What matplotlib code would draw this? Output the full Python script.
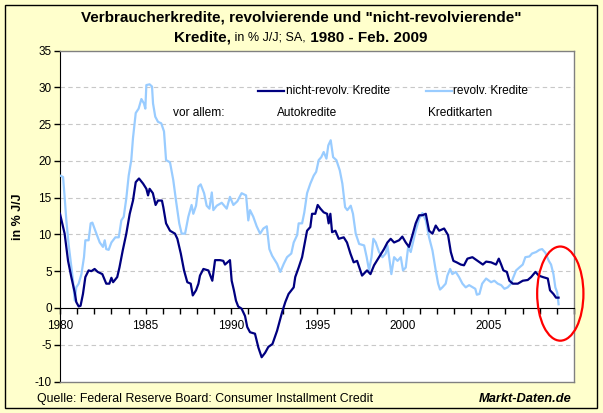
import matplotlib
matplotlib.use("Agg")
import matplotlib.pyplot as plt
from matplotlib.patches import Ellipse, Rectangle
from matplotlib.lines import Line2D

W, H = 603, 413
BG = "#FFFFCC"
NAVY = "#000080"
LIGHT = "#99CCFF"
plt.rcParams["font.family"] = ["Liberation Sans", "DejaVu Sans"]

# nicht-revolvierende Kredite (Autokredite), % J/J
navy_x = [1980.0, 1980.27, 1980.47, 1980.66, 1980.86, 1980.95, 1981.09, 1981.2, 1981.34, 1981.48,
          1981.67, 1981.83, 1982.02, 1982.2, 1982.47, 1982.7, 1982.88, 1983.0, 1983.1, 1983.34,
          1983.47, 1983.66, 1983.87, 1984.07, 1984.26, 1984.42, 1984.61, 1984.85, 1985.04, 1985.14,
          1985.23, 1985.42, 1985.58, 1985.72, 1985.95, 1986.03, 1986.19, 1986.42, 1986.71, 1986.85,
          1987.05, 1987.24, 1987.43, 1987.63, 1987.75, 1987.94, 1988.08, 1988.17, 1988.37, 1988.66,
          1988.89, 1989.05, 1989.34, 1989.53, 1989.63, 1989.92, 1990.02, 1990.15, 1990.27, 1990.4,
          1990.6, 1990.8, 1990.93, 1991.09, 1991.38, 1991.58, 1991.77, 1991.97, 1992.16, 1992.4,
          1992.67, 1992.96, 1993.15, 1993.34, 1993.64, 1993.73, 1993.93, 1994.13, 1994.22, 1994.42,
          1994.61, 1994.71, 1994.9, 1995.04, 1995.2, 1995.39, 1995.59, 1995.68, 1995.78, 1995.88,
          1996.07, 1996.27, 1996.56, 1996.75, 1996.95, 1997.14, 1997.34, 1997.53, 1997.63, 1997.92,
          1998.12, 1998.33, 1998.62, 1998.91, 1999.11, 1999.3, 1999.5, 1999.79, 1999.98, 2000.18,
          2000.37, 2000.57, 2000.76, 2000.96, 2001.15, 2001.35, 2001.54, 2001.74, 2001.93, 2002.13,
          2002.42, 2002.65, 2002.81, 2002.96, 2003.15, 2003.39, 2003.58, 2003.78, 2004.07, 2004.38,
          2004.68, 2004.87, 2005.16, 2005.45, 2005.61, 2005.75, 2005.88, 2006.08, 2006.23, 2006.43,
          2006.72, 2007.01, 2007.3, 2007.5, 2007.75, 2007.94, 2008.18, 2008.47, 2008.6, 2008.8,
          2008.95, 2009.1]
navy_y = [12.8, 10.1, 6.4, 4.2, 2.1, 0.8, 0.2, 0.3, 1.9, 4.2,
          5.1, 5.0, 5.3, 4.9, 4.6, 3.3, 3.3, 4.1, 3.5, 4.2,
          5.5, 7.8, 10.1, 12.8, 14.6, 17.1, 17.6, 16.9, 16.2, 15.3,
          16.2, 15.6, 14.0, 14.6, 14.6, 13.7, 11.5, 10.5, 10.1, 9.4,
          7.4, 5.1, 3.5, 3.3, 1.7, 2.4, 3.3, 4.4, 5.3, 5.1,
          3.7, 6.5, 6.5, 6.4, 5.9, 6.5, 3.7, 2.4, 1.0, 0.2,
          -0.1, -1.1, -2.6, -3.3, -3.5, -5.4, -6.7, -6.1, -5.3, -4.9,
          -3.1, -0.6, 0.8, 1.9, 2.8, 4.2, 5.5, 6.9, 8.0, 10.5,
          11.0, 12.8, 12.8, 14.0, 13.5, 13.0, 12.8, 11.5, 12.8, 10.3,
          10.5, 9.4, 9.6, 8.9, 7.4, 6.2, 6.4, 5.1, 4.4, 5.1,
          4.6, 5.8, 6.9, 8.0, 8.9, 9.4, 8.9, 9.2, 9.7, 8.9,
          8.3, 9.9, 11.5, 12.6, 12.6, 12.8, 10.5, 10.1, 11.2, 10.5,
          10.8, 9.9, 7.6, 6.4, 6.2, 5.9, 5.8, 6.7, 6.9, 6.4,
          5.9, 6.3, 6.2, 5.9, 6.7, 5.9, 5.1, 4.9, 3.7, 3.3,
          3.3, 3.7, 3.8, 4.2, 4.9, 4.4, 4.2, 4.0, 2.4, 1.9,
          1.4, 1.4]

# revolvierende Kredite (Kreditkarten), % J/J
light_x = [1980.0, 1980.18, 1980.27, 1980.37, 1980.5, 1980.62, 1980.76, 1980.86, 1980.95, 1981.09,
           1981.25, 1981.4, 1981.48, 1981.67, 1981.79, 1981.89, 1982.06, 1982.32, 1982.51, 1982.61,
           1982.7, 1982.84, 1983.0, 1983.23, 1983.43, 1983.58, 1983.72, 1983.87, 1984.01, 1984.16,
           1984.26, 1984.42, 1984.59, 1984.75, 1984.9, 1984.98, 1985.04, 1985.23, 1985.37, 1985.43,
           1985.56, 1985.72, 1985.91, 1986.07, 1986.19, 1986.42, 1986.61, 1986.77, 1986.96, 1987.1,
           1987.3, 1987.49, 1987.68, 1987.78, 1987.94, 1988.08, 1988.21, 1988.41, 1988.56, 1988.72,
           1988.86, 1988.95, 1989.15, 1989.44, 1989.73, 1989.92, 1990.12, 1990.35, 1990.6, 1990.86,
           1990.99, 1991.09, 1991.28, 1991.48, 1991.68, 1991.87, 1992.07, 1992.22, 1992.38, 1992.67,
           1992.86, 1993.06, 1993.25, 1993.5, 1993.64, 1993.84, 1993.93, 1994.13, 1994.26, 1994.42,
           1994.61, 1994.81, 1994.95, 1995.1, 1995.25, 1995.39, 1995.55, 1995.66, 1995.8, 1995.94,
           1996.13, 1996.33, 1996.48, 1996.64, 1996.77, 1996.97, 1997.1, 1997.26, 1997.46, 1997.75,
           1997.9, 1998.04, 1998.18, 1998.29, 1998.43, 1998.62, 1998.82, 1999.01, 1999.11, 1999.21,
           1999.34, 1999.5, 1999.7, 1999.89, 2000.02, 2000.18, 2000.32, 2000.47, 2000.63, 2000.76,
           2000.96, 2001.15, 2001.35, 2001.54, 2001.74, 2001.93, 2002.07, 2002.18, 2002.32, 2002.51,
           2002.61, 2002.77, 2002.9, 2003.1, 2003.29, 2003.49, 2003.68, 2003.88, 2004.09, 2004.24,
           2004.33, 2004.48, 2004.64, 2004.87, 2005.16, 2005.35, 2005.55, 2005.75, 2005.94, 2006.13,
           2006.33, 2006.43, 2006.62, 2006.81, 2007.01, 2007.16, 2007.4, 2007.55, 2007.79, 2007.98,
           2008.14, 2008.33, 2008.53, 2008.66, 2008.8, 2008.91, 2009.02, 2009.1]
light_y = [18.0, 17.8, 15.1, 11.9, 8.7, 6.4, 3.7, 1.0, 2.8, 3.3,
           4.6, 6.9, 9.2, 9.2, 11.5, 11.6, 10.5, 8.9, 8.3, 9.2,
           8.0, 7.9, 8.9, 9.6, 9.6, 11.9, 12.4, 14.9, 18.0, 20.1,
           23.1, 26.5, 27.1, 28.4, 27.8, 27.1, 30.3, 30.4, 30.1, 27.8,
           26.0, 25.3, 25.1, 24.0, 20.1, 19.8, 17.4, 14.6, 11.5, 10.1,
           10.1, 12.4, 14.0, 12.8, 13.9, 16.5, 16.8, 15.6, 13.9, 13.5,
           15.7, 13.3, 13.9, 14.3, 13.5, 15.1, 14.0, 14.5, 15.6, 15.3,
           11.9, 13.3, 12.4, 11.1, 10.1, 10.8, 11.1, 8.0, 7.1, 6.0,
           4.9, 6.0, 6.9, 7.4, 8.9, 9.9, 11.5, 11.5, 13.0, 15.6,
           16.9, 18.0, 18.5, 20.1, 20.5, 21.2, 20.3, 22.1, 22.8, 20.5,
           20.1, 18.7, 16.9, 13.7, 13.3, 13.9, 12.8, 10.1, 8.7, 8.5,
           6.9, 5.1, 6.9, 9.4, 8.9, 7.6, 6.9, 7.4, 8.5, 6.9,
           4.6, 6.9, 6.4, 6.9, 5.1, 5.5, 8.3, 7.6, 9.2, 10.5,
           12.1, 12.9, 11.9, 9.6, 7.8, 5.1, 3.3, 2.5, 2.8, 3.3,
           4.4, 5.3, 4.6, 4.9, 4.2, 3.3, 2.8, 3.1, 2.8, 2.6,
           1.8, 1.9, 3.3, 4.0, 3.5, 3.7, 3.3, 3.1, 2.6, 2.8,
           3.3, 4.0, 5.1, 5.5, 5.9, 6.9, 7.0, 7.4, 7.6, 7.9,
           8.0, 7.5, 6.4, 5.9, 4.6, 2.8, 2.1, 0.5]

y_ticks = [-10, -5, 0, 5, 10, 15, 20, 25, 30, 35]
x_labels = [1980, 1985, 1990, 1995, 2000, 2005]


def fx(px):
    return px / W


def fy(py):
    return 1 - py / H


fig = plt.figure(figsize=(W / 100, H / 100), dpi=100, facecolor=BG)
fig.patches.append(Rectangle((fx(4.5), fy(408)), fx(592), (408 - 4.5) / H,
                             transform=fig.transFigure, fill=False,
                             edgecolor="black", lw=1.0))

ax = fig.add_axes([fx(60), fy(381.5), fx(574 - 60), (381.5 - 50.5) / H])
ax.set_facecolor("white")
ax.set_xlim(1980, 2010)
ax.set_ylim(-10, 35)

ax.plot(light_x, light_y, color=LIGHT, lw=1.6, zorder=3)
ax.plot(navy_x, navy_y, color=NAVY, lw=1.6, zorder=4)

# grid
for v in y_ticks:
    if v not in (0, -10, 35):
        ax.axhline(v, color="#C8C8C8", lw=0.8, ls=(0, (4, 3)), zorder=1)

for s in ["top", "right"]:
    ax.spines[s].set_color("#808080")
    ax.spines[s].set_linewidth(1.0)
ax.spines["left"].set_color("black")
ax.spines["bottom"].set_position(("data", 0))
ax.spines["bottom"].set_color("black")
ax.axhline(-10, color="#808080", lw=1.0, clip_on=False, zorder=5)

ax.set_yticks(y_ticks)
ax.set_yticklabels([str(v) for v in y_ticks], fontsize=8.5)
ax.set_xticks(range(1980, 2011))
ax.set_xticklabels(["" for _ in range(1980, 2011)])
ax.tick_params(axis="y", direction="out", length=4, width=1, pad=2)
ax.tick_params(axis="x", direction="out", length=4, width=1)
for yr in x_labels:
    ax.text(yr, -2.5, str(yr), ha="center", va="center", fontsize=8.5)

ax.add_patch(Ellipse((2009.2, 1.95), 2.7, 12.8, fill=False, edgecolor="red",
                     lw=1.6, clip_on=False, zorder=6))

# legend / notes
fig.add_artist(Line2D([fx(258), fx(284)], [fy(91), fy(91)], color=NAVY, lw=1.6))
fig.text(fx(286), fy(91), "nicht-revolv. Kredite", fontsize=8.6, va="center")
fig.add_artist(Line2D([fx(426), fx(452)], [fy(91), fy(91)], color=LIGHT, lw=1.6))
fig.text(fx(453), fy(91), "revolv. Kredite", fontsize=8.6, va="center")
fig.text(fx(173), fy(113), "vor allem:", fontsize=8.6, va="center")
fig.text(fx(277), fy(113), "Autokredite", fontsize=8.6, va="center")
fig.text(fx(428), fy(113), "Kreditkarten", fontsize=8.6, va="center")

fig.text(fx(18), fy(217), "in % J/J", rotation=90, fontsize=9, fontweight="bold",
         ha="center", va="center")

# title
fig.text(fx(301), fy(18), 'Verbraucherkredite, revolvierende und "nicht-revolvierende"',
         fontsize=11, fontweight="bold", ha="center", va="center")
parts = [("Kredite,", "bold", 11), (" in % J/J; SA,", "normal", 9), (" 1980 - Feb. 2009", "bold", 11)]
fig.canvas.draw()
r = fig.canvas.get_renderer()
widths = []
for txt, wt, fs in parts:
    t = fig.text(0, 0, txt, fontsize=fs, fontweight=wt)
    widths.append(t.get_window_extent(r).width)
    t.remove()
x0 = 301 - sum(widths) / 2
for (txt, wt, fs), w in zip(parts, widths):
    fig.text(fx(x0), fy(38), txt, fontsize=fs, fontweight=wt, va="center")
    x0 += w

fig.text(fx(37), fy(399), "Quelle: Federal Reserve Board: Consumer Installment Credit",
         fontsize=8.9, va="center")
fig.text(fx(572), fy(399), "Markt-Daten.de", fontsize=9.3, fontweight="bold",
         style="italic", ha="right", va="center")

fig.savefig("out.png", dpi=100, facecolor=BG)
